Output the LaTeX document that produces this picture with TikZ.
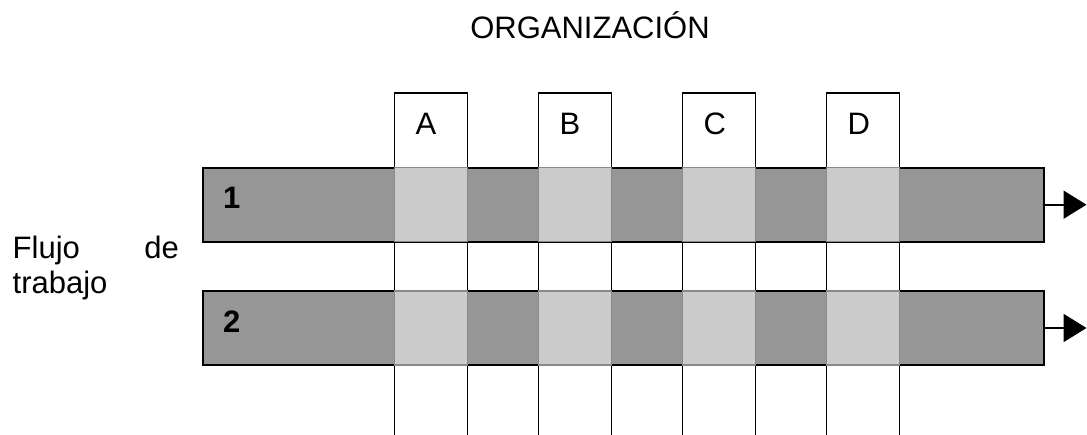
\documentclass[tikz,border=0pt]{standalone}
\usepackage{fontspec}
\setmainfont{Liberation Sans}
\usetikzlibrary{arrows.meta}
\definecolor{bandgray}{HTML}{969696}
\definecolor{sqgray}{HTML}{CBCBCB}
\definecolor{sqedge}{HTML}{8A8A8A}
\begin{document}
\begin{tikzpicture}[x=1pt,y=-1pt,
  txt/.style={inner sep=0pt,font=\fontsize{31}{35}\selectfont},
  boldtxt/.style={txt,font=\fontsize{31}{35}\selectfont\bfseries},
  colline/.style={draw=black,line width=1.8pt},
  band/.style={draw=black,fill=bandgray,line width=1.8pt,rectangle,inner sep=0pt,minimum width=841.3pt,minimum height=74pt},
  sq/.style={draw=sqedge,fill=sqgray,line width=1.3pt,rectangle,inner sep=0pt,minimum width=73pt,minimum height=74pt},
  arr/.style={draw=black,line width=1.8pt,-{Triangle[length=23pt,width=28pt]}}]
\useasboundingbox (0,0) rectangle (1087,435);
% title
\node[txt,anchor=base] (title) at (590,39) {ORGANIZACIÓN};
% side label
\node[txt,anchor=base west] (flujo) at (12.5,259) {Flujo};
\node[txt,anchor=base east] (de) at (179,259) {de};
\node[txt,anchor=base west] (trabajo) at (12.5,294) {trabajo};
% columns
\foreach \L/\x in {A/394.5,B/538.5,C/682.5,D/826.5}{
  \draw[colline] (\x,435) -- (\x,93.3) -- (\x+73,93.3) -- (\x+73,435);
  \node[txt,anchor=base west] (col\L) at (\x+21,135) {\L};
}
% bands
\node[band] (b1) at (623.35,204.7) {};
\node[band] (b2) at (623.35,328) {};
\node[boldtxt,anchor=base west] (n1) at (223,209) {1};
\node[boldtxt,anchor=base west] (n2) at (223,332.3) {2};
% squares
\foreach \L/\x in {A/394.5,B/538.5,C/682.5,D/826.5}{
  \node[sq] (s1\L) at (\x+36.5,204.7) {};
  \node[sq] (s2\L) at (\x+36.5,328) {};
}
% arrows
\coordinate (e1) at (1086.5,204.7);
\coordinate (e2) at (1086.5,328);
\draw[arr] (b1.east) -- (e1);
\draw[arr] (b2.east) -- (e2);
\end{tikzpicture}
\end{document}
